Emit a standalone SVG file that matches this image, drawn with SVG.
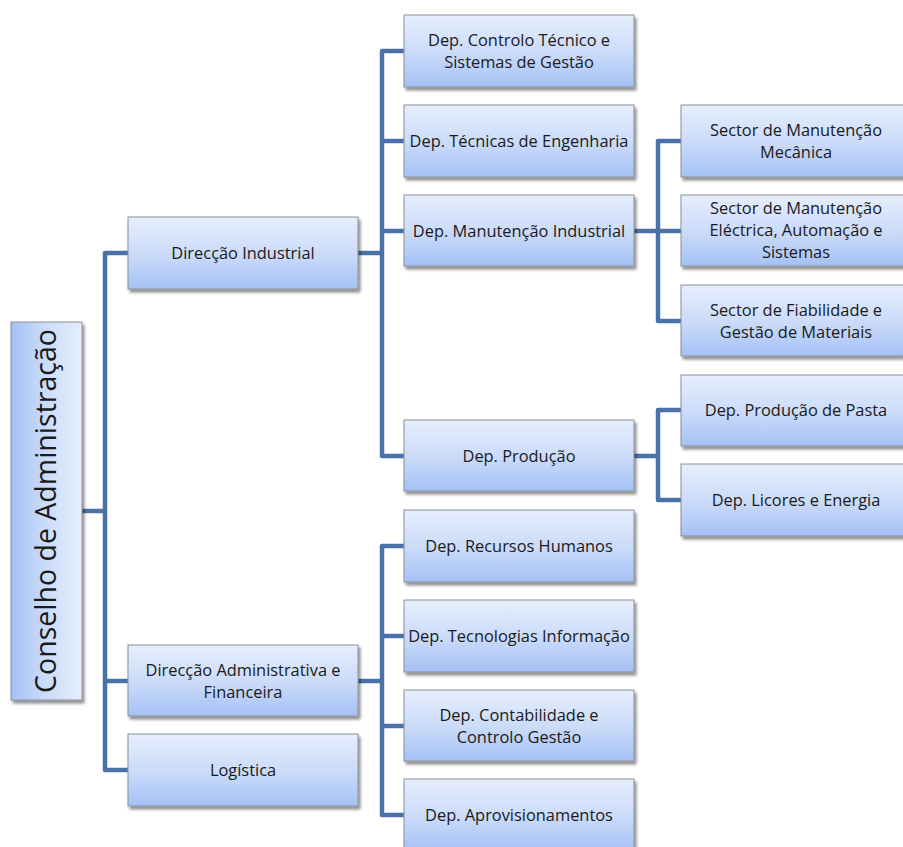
<svg xmlns="http://www.w3.org/2000/svg" width="903" height="847" viewBox="0 0 903 847">
  <defs>
    <linearGradient id="boxFill" x1="0" y1="0" x2="0" y2="1">
      <stop offset="0" stop-color="#e6eefc"/>
      <stop offset="0.55" stop-color="#c9daf9"/>
      <stop offset="1" stop-color="#a4c1f5"/>
    </linearGradient>
    <linearGradient id="boardFill" x1="1" y1="0" x2="0" y2="0">
      <stop offset="0" stop-color="#e6eefc"/>
      <stop offset="0.55" stop-color="#c9daf9"/>
      <stop offset="1" stop-color="#a4c1f5"/>
    </linearGradient>
    <filter id="shadow" x="-10%" y="-10%" width="130%" height="140%">
      <feGaussianBlur in="SourceAlpha" stdDeviation="1.6"/>
      <feOffset dx="1.5" dy="2.5" result="b"/>
      <feComponentTransfer><feFuncA type="linear" slope="0.45"/></feComponentTransfer>
      <feMerge><feMergeNode/><feMergeNode in="SourceGraphic"/></feMerge>
    </filter>
  </defs>
  <style>
    .box { fill: url(#boxFill); stroke: #8a8f96; stroke-width: 1; filter: url(#shadow); }
    .board { fill: url(#boardFill); stroke: #8a8f96; stroke-width: 1; filter: url(#shadow); }
    .lbl { font-family: "Open Sans", "Liberation Sans", sans-serif; font-size: 16.4px; fill: #1a1a1a; text-anchor: middle; }
    .big { font-family: "Open Sans", "Liberation Sans", sans-serif; font-size: 28.5px; fill: #1a1a1a; text-anchor: middle; }
    .link { fill: none; stroke: #4a72a8; stroke-width: 4.5; stroke-linejoin: round; stroke-linecap: butt; }
  </style>
  <rect width="903" height="847" fill="#ffffff"/>

  <g id="connectors">
    <!-- board to directorates -->
    <path class="link" d="M82 511 H105"/>
    <path class="link" d="M128 253 H105 V770 H128"/>
    <path class="link" d="M105 681 H128"/>
    <!-- industrial directorate to departments -->
    <path class="link" d="M358 253 H382"/>
    <path class="link" d="M404 51 H382 V456 H404"/>
    <path class="link" d="M382 141 H404"/>
    <path class="link" d="M382 231 H404"/>
    <!-- maintenance to sectors -->
    <path class="link" d="M634 231 H658"/>
    <path class="link" d="M681 141 H658 V321 H681"/>
    <path class="link" d="M658 231 H681"/>
    <!-- production to sub-departments -->
    <path class="link" d="M634 456 H658"/>
    <path class="link" d="M681 410 H658 V500 H681"/>
    <!-- administrative directorate to departments -->
    <path class="link" d="M358 681 H382"/>
    <path class="link" d="M404 546 H382 V815 H404"/>
    <path class="link" d="M382 636 H404"/>
    <path class="link" d="M382 726 H404"/>
  </g>

  <g id="conselho">
    <rect class="board" x="11" y="322" width="71" height="378"/>
    <text class="big" transform="translate(56 511) rotate(-90)">Conselho de Administração</text>
  </g>

  <g id="direccao-industrial">
    <rect class="box" x="128" y="217" width="230" height="72"/>
    <text class="lbl" x="243" y="259">Direcção Industrial</text>
  </g>
  <g id="direccao-administrativa">
    <rect class="box" x="128" y="645" width="230" height="71"/>
    <text class="lbl" x="243" y="676">Direcção Administrativa e</text>
    <text class="lbl" x="243" y="698">Financeira</text>
  </g>
  <g id="logistica">
    <rect class="box" x="128" y="734" width="230" height="72"/>
    <text class="lbl" x="243" y="776">Logística</text>
  </g>

  <g id="dep-controlo-tecnico">
    <rect class="box" x="404" y="15" width="230" height="72"/>
    <text class="lbl" x="519" y="46">Dep. Controlo Técnico e</text>
    <text class="lbl" x="519" y="68">Sistemas de Gestão</text>
  </g>
  <g id="dep-tecnicas-engenharia">
    <rect class="box" x="404" y="105" width="230" height="72"/>
    <text class="lbl" x="519" y="147">Dep. Técnicas de Engenharia</text>
  </g>
  <g id="dep-manutencao-industrial">
    <rect class="box" x="404" y="195" width="230" height="71"/>
    <text class="lbl" x="519" y="237">Dep. Manutenção Industrial</text>
  </g>
  <g id="dep-producao">
    <rect class="box" x="404" y="420" width="230" height="71"/>
    <text class="lbl" x="519" y="462">Dep. Produção</text>
  </g>
  <g id="dep-recursos-humanos">
    <rect class="box" x="404" y="510" width="230" height="72"/>
    <text class="lbl" x="519" y="552">Dep. Recursos Humanos</text>
  </g>
  <g id="dep-tecnologias-informacao">
    <rect class="box" x="404" y="600" width="230" height="72"/>
    <text class="lbl" x="519" y="642">Dep. Tecnologias Informação</text>
  </g>
  <g id="dep-contabilidade">
    <rect class="box" x="404" y="690" width="230" height="71"/>
    <text class="lbl" x="519" y="721">Dep. Contabilidade e</text>
    <text class="lbl" x="519" y="743">Controlo Gestão</text>
  </g>
  <g id="dep-aprovisionamentos">
    <rect class="box" x="404" y="779" width="230" height="72"/>
    <text class="lbl" x="519" y="821">Dep. Aprovisionamentos</text>
  </g>

  <g id="sector-mecanica">
    <rect class="box" x="681" y="105" width="230" height="72"/>
    <text class="lbl" x="796" y="136">Sector de Manutenção</text>
    <text class="lbl" x="796" y="158">Mecânica</text>
  </g>
  <g id="sector-electrica">
    <rect class="box" x="681" y="195" width="230" height="71"/>
    <text class="lbl" x="796" y="214">Sector de Manutenção</text>
    <text class="lbl" x="796" y="236">Eléctrica, Automação e</text>
    <text class="lbl" x="796" y="258">Sistemas</text>
  </g>
  <g id="sector-fiabilidade">
    <rect class="box" x="681" y="285" width="230" height="71"/>
    <text class="lbl" x="796" y="316">Sector de Fiabilidade e</text>
    <text class="lbl" x="796" y="338">Gestão de Materiais</text>
  </g>
  <g id="dep-producao-pasta">
    <rect class="box" x="681" y="375" width="230" height="71"/>
    <text class="lbl" x="796" y="416">Dep. Produção de Pasta</text>
  </g>
  <g id="dep-licores-energia">
    <rect class="box" x="681" y="464" width="230" height="72"/>
    <text class="lbl" x="796" y="506">Dep. Licores e Energia</text>
  </g>
</svg>
